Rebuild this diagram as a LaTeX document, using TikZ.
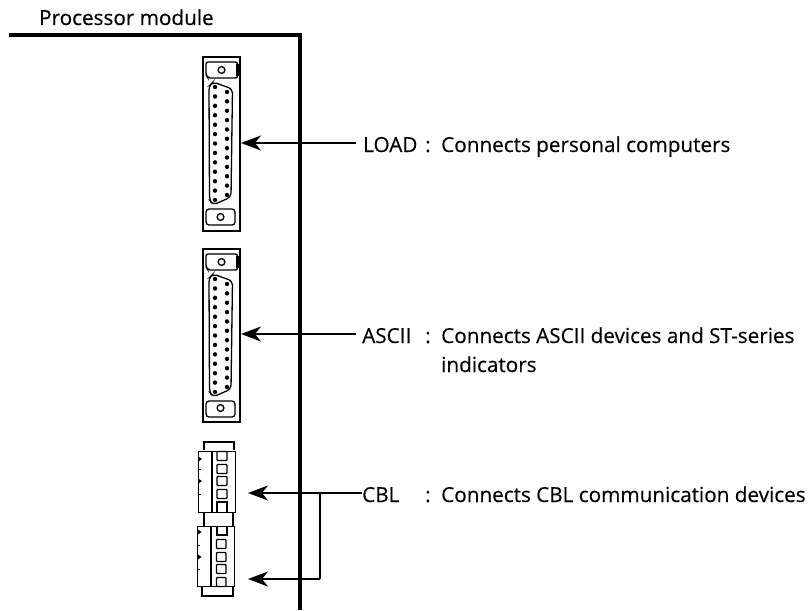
\documentclass[tikz,border=0pt]{standalone}
\usepackage{fontspec}
\setmainfont{Open Sans}[FakeBold=0.3]
\usetikzlibrary{arrows.meta}
\tikzset{
  x=1pt,y=-1pt,
  lbl/.style={anchor=west,inner sep=0pt,font=\fontsize{20.7}{24}\selectfont,text height=18pt,text depth=0pt},
  wall/.style={line width=4pt,black},
  part/.style={line width=1.3pt,black},
  frame/.style={line width=2pt,black},
  pin/.style={fill=black,draw=none},
  lead/.style={line width=1.7pt,black},
  tip/.style={lead,-{Stealth[length=20pt,width=15pt,inset=6pt]}}
}
\newcommand{\dsub}[6]{% yoffset, name
  \begin{scope}[yshift=-#1pt]
    \node[frame,draw,minimum width=37pt,minimum height=#2pt,inner sep=0pt,anchor=north west] (#6) at (202,56) {};
    \draw[part,rounded corners=2pt] (206,62) -- (237.5,62) -- (237.5,78) -- (208,78) -- (206,75) -- cycle;
    \fill[black] (236,64) rectangle (238.5,76);
    \draw[part] (221.5,70) circle (3.4pt);
    \draw[part,rounded corners=4pt] (213,82) -- (232.5,89) -- (231,197) -- (213,205) -- (209.5,200) -- (209,86) -- cycle;
    \foreach \i in {0,...,12} \fill[pin] (215,87+\i*9.42) circle (2.2pt);
    \foreach \i in {0,...,11} \fill[pin] (227,92+\i*9.36) circle (2.2pt);
    \draw[part,rounded corners=3pt] (206,#3) -- (206,#4) -- (235,#4) -- (235,#3) -- cycle;
    \draw[part] (220.5,#5) circle (3.4pt);
  \end{scope}
}
\begin{document}
\begin{tikzpicture}
\useasboundingbox (0,0) rectangle (810,610);
% enclosure
\node[lbl] (title) at (39,16) {Processor module};
\coordinate (wallA) at (9,35);
\coordinate (wallB) at (299.5,35);
\coordinate (wallC) at (299.5,610);
\draw[wall,line join=miter] (wallA) -- (wallB) -- (wallC);
% D-sub connectors
\dsub{0}{174}{209}{225}{217}{loadport}
\dsub{192}{173}{209}{225}{216}{asciiport}
% terminal block
\begin{scope}
  \draw[part] (204,450) -- (204,442) -- (234,442) -- (234,450);
  \node[part,draw,minimum width=37pt,minimum height=61pt,inner sep=0pt,anchor=north west] (cbla) at (198,450.5) {};
  \draw[part] (212,450.5) -- (212,511.5);
  \draw[part] (204,511.5) -- (204,526) (233,511.5) -- (233,526);
  \node[part,draw,minimum width=37pt,minimum height=60pt,inner sep=0pt,anchor=north west] (cblb) at (197,526) {};
  \draw[part] (211,526) -- (211,586);
  \draw[part] (202,586) -- (202,596) -- (233,596) -- (233,586);
  \foreach \y in {456,469,481,494} \draw[part,rounded corners=0.8pt] (217,\y-4.5) rectangle (227,\y+4.5);
  \draw[part] (217,511.5) -- (217,502) -- (227,502) -- (227,511.5);
  \draw[part] (217,526) -- (217,535) -- (227,535) -- (227,526);
  \foreach \y in {544,557,569,582} \draw[part,rounded corners=0.8pt] (216.5,\y-4.5) rectangle (226,\y+4.5);
  \foreach \y in {459,481} \fill[black] (199,\y-2) -- (202,\y) -- (199,\y+2) -- cycle;
  \foreach \y in {469,494} \draw[line width=0.8pt] (198,\y) -- (201,\y);
  \foreach \y in {532,557} \fill[black] (198,\y-2.5) -- (201.5,\y) -- (198,\y+2.5) -- cycle;
  \foreach \y in {545,569} \draw[line width=0.8pt] (197,\y) -- (200,\y);
\end{scope}
% labels
\node[lbl] (load) at (363,143) {LOAD};
\node[lbl] (loadc) at (425,143) {:};
\node[lbl] (loadt) at (441,143) {Connects personal computers};
\node[lbl] (ascii) at (362,334) {ASCII};
\node[lbl] (asciic) at (425,334) {:};
\node[lbl] (asciit) at (441,334) {Connects ASCII devices and ST-series};
\node[lbl] (asciit2) at (441,363) {indicators};
\node[lbl] (cbl) at (362,493) {CBL};
\node[lbl] (cblc) at (425,493) {:};
\node[lbl] (cblt) at (441,493) {Connects CBL communication devices};
% connectors
\coordinate (tipa) at (241,143);
\coordinate (tipb) at (241,334);
\coordinate (tipc) at (248,493);
\coordinate (tipd) at (248,579);
\coordinate (junc) at (320,493);
\coordinate (bend) at (320,579);
\draw[tip] (load.west) ++(-7,0) -- (tipa);
\draw[tip] (ascii.west) ++(-6,0) -- (tipb);
\draw[tip] (cbl.west) -- (tipc);
\draw[lead] (junc) -- (bend);
\draw[tip] (bend) -- (tipd);
\end{tikzpicture}
\end{document}
